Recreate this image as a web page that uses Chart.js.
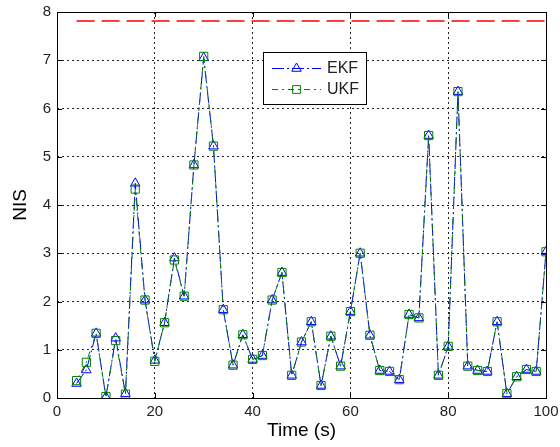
<!DOCTYPE html>
<html>
<head>
<meta charset="utf-8">
<script src="https://cdn.jsdelivr.net/npm/chart.js@4.4.0/dist/chart.umd.min.js"></script>
<style>
  html, body { margin: 0; padding: 0; background: #fff; }
  #wrap { width: 560px; height: 447px; }
</style>
</head>
<body>
<div id="wrap"><canvas id="c" width="560" height="447"></canvas></div>
<script>
// Time instants (s)
const timeS = [4, 6, 8, 10, 12, 14, 16, 18, 20, 22, 24, 26, 28, 30, 32, 34, 36, 38, 40, 42, 44, 46, 48, 50,
  52, 54, 56, 58, 60, 62, 64, 66, 68, 70, 72, 74, 76, 78, 80, 82, 84, 86, 88, 90, 92, 94, 96, 98, 100];
// NIS values for EKF
const ekfNIS = [0.30, 0.58, 1.34, 0.02, 1.24, 0.09, 4.45, 2.03, 0.78, 1.56, 2.90, 2.11, 4.83, 7.05, 5.22,
  1.83, 0.68, 1.31, 0.80, 0.88, 2.03, 2.60, 0.47, 1.16, 1.58, 0.26, 1.28, 0.66, 1.79, 3.00, 1.30, 0.57,
  0.55, 0.38, 1.73, 1.66, 5.44, 0.47, 1.07, 6.35, 0.66, 0.57, 0.55, 1.58, 0.09, 0.44, 0.59, 0.55, 3.03];
// NIS values for UKF
const ukfNIS = [0.36, 0.74, 1.34, 0.03, 1.19, 0.08, 4.33, 2.03, 0.76, 1.56, 2.86, 2.11, 4.83, 7.08, 5.22,
  1.83, 0.68, 1.31, 0.80, 0.88, 2.03, 2.60, 0.47, 1.16, 1.58, 0.26, 1.28, 0.66, 1.79, 3.00, 1.30, 0.57,
  0.55, 0.38, 1.73, 1.66, 5.44, 0.47, 1.07, 6.35, 0.66, 0.57, 0.55, 1.58, 0.09, 0.44, 0.59, 0.55, 3.03];
// Upper confidence bound (chi-square threshold)
const boundX = [4, 100];
const boundY = [7.815, 7.815];
// Tick settings
const xTicks = [0, 20, 40, 60, 80, 100];
const yTicks = [0, 1, 2, 3, 4, 5, 6, 7, 8];

const toXY = (xs, ys) => xs.map((x, i) => ({ x: x, y: ys[i] }));

const zeroPad = (scale) => {
  scale.paddingTop = 0; scale.paddingBottom = 0;
  scale.paddingLeft = 0; scale.paddingRight = 0;
};

const boxPlugin = {
  id: 'boxPlugin',
  afterDatasetsDraw(chart) {
    const { ctx, chartArea: a } = chart;
    ctx.save();
    ctx.strokeStyle = '#000';
    ctx.lineWidth = 1;
    ctx.setLineDash([]);
    ctx.strokeRect(Math.round(a.left) + 0.5, Math.round(a.top) + 0.5,
      Math.round(a.right - a.left), Math.round(a.bottom - a.top));
    // inward tick marks
    const xs = chart.scales.x, ys = chart.scales.y;
    ctx.beginPath();
    xTicks.forEach(v => {
      const px = Math.round(xs.getPixelForValue(v)) + 0.5;
      ctx.moveTo(px, a.bottom); ctx.lineTo(px, a.bottom - 5);
      ctx.moveTo(px, a.top); ctx.lineTo(px, a.top + 5);
    });
    yTicks.forEach(v => {
      const py = Math.round(ys.getPixelForValue(v)) + 0.5;
      ctx.moveTo(a.left, py); ctx.lineTo(a.left + 5, py);
      ctx.moveTo(a.right, py); ctx.lineTo(a.right - 5, py);
    });
    ctx.stroke();
    ctx.restore();
  },
  afterDraw(chart) {
    // legend box
    const { ctx } = chart;
    const bx = 263, by = 52, bw = 103, bh = 52;
    ctx.save();
    ctx.fillStyle = '#fff';
    ctx.fillRect(bx, by, bw, bh);
    ctx.strokeStyle = '#000';
    ctx.lineWidth = 1;
    ctx.setLineDash([]);
    ctx.strokeRect(bx + 0.5, by + 0.5, bw, bh);
    const items = [
      { ds: chart.data.datasets[0], y: 68 },
      { ds: chart.data.datasets[1], y: 89 }
    ];
    items.forEach(it => {
      const ds = it.ds;
      ctx.strokeStyle = ds.borderColor;
      ctx.lineWidth = 1;
      ctx.setLineDash(ds.borderDash);
      ctx.beginPath();
      ctx.moveTo(272, it.y + 0.5);
      ctx.lineTo(321, it.y + 0.5);
      ctx.stroke();
      ctx.setLineDash([]);
      ctx.fillStyle = 'rgba(0,0,0,0)';
      ctx.strokeStyle = ds.borderColor;
      ctx.beginPath();
      Chart.helpers.drawPoint(ctx, { pointStyle: ds.pointStyle, rotation: 0, borderWidth: 1, radius: 5.5 }, 296.5, it.y + 0.5);
      ctx.fillStyle = '#222';
      ctx.font = '16px "Liberation Sans", Arial, sans-serif';
      ctx.textBaseline = 'middle';
      ctx.textAlign = 'left';
      ctx.fillText(ds.label, 327, it.y + 1);
    });
    ctx.restore();
  }
};

new Chart(document.getElementById('c'), {
  type: 'line',
  data: {
    datasets: [
      {
        label: 'EKF',
        data: toXY(timeS, ekfNIS),
        borderColor: '#0000ff',
        backgroundColor: 'rgba(0,0,0,0)',
        borderWidth: 1,
        borderDash: [12, 3, 2, 3],
        pointStyle: 'triangle',
        pointRadius: 5.5,
        pointBorderWidth: 1,
        pointBorderColor: '#0000ff',
        pointBackgroundColor: 'rgba(0,0,0,0)',
        tension: 0,
        order: 2
      },
      {
        label: 'UKF',
        data: toXY(timeS, ukfNIS),
        borderColor: '#008000',
        backgroundColor: 'rgba(0,0,0,0)',
        borderWidth: 1,
        borderDash: [6, 4, 2, 4],
        borderDashOffset: 6,
        pointStyle: 'rect',
        pointRadius: 5.8,
        pointBorderWidth: 1,
        pointBorderColor: '#008000',
        pointBackgroundColor: 'rgba(0,0,0,0)',
        tension: 0,
        order: 1
      },
      {
        label: 'bound',
        data: toXY(boundX, boundY),
        borderColor: '#ff0000',
        borderWidth: 1.4,
        borderDash: [18, 7],
        pointRadius: 0,
        tension: 0,
        order: 3
      }
    ]
  },
  options: {
    responsive: false,
    animation: false,
    events: [],
    layout: { padding: { top: 12, right: 14, left: 0, bottom: 0 } },
    plugins: {
      legend: { display: false },
      tooltip: { enabled: false }
    },
    scales: {
      x: {
        type: 'linear',
        min: 0, max: 100,
        afterBuildTicks(scale) { scale.ticks = xTicks.map(v => ({ value: v })); },
        afterFit(scale) { scale.height = 49; zeroPad(scale); },
        ticks: {
          padding: 5,
          color: '#222',
          font: { family: '"Liberation Sans", Arial, sans-serif', size: 15 },
          maxRotation: 0
        },
        grid: { color: '#222', lineWidth: 1, drawTicks: false },
        border: { display: false, dash: [2, 3] },
        title: {
          display: true,
          text: 'Time (s)',
          color: '#000',
          font: { family: '"Liberation Sans", Arial, sans-serif', size: 19 },
          padding: { top: 0, bottom: 5 }
        }
      },
      y: {
        type: 'linear',
        min: 0, max: 8,
        afterBuildTicks(scale) { scale.ticks = yTicks.map(v => ({ value: v })); },
        afterFit(scale) { scale.width = 57; zeroPad(scale); },
        ticks: {
          padding: 6,
          color: '#222',
          font: { family: '"Liberation Sans", Arial, sans-serif', size: 15 }
        },
        grid: { color: '#222', lineWidth: 1, drawTicks: false },
        border: { display: false, dash: [2, 3] },
        title: {
          display: true,
          text: 'NIS',
          color: '#000',
          font: { family: '"Liberation Sans", Arial, sans-serif', size: 19 },
          padding: { top: 9, bottom: 0 }
        }
      }
    }
  },
  plugins: [boxPlugin]
});
</script>
</body>
</html>
